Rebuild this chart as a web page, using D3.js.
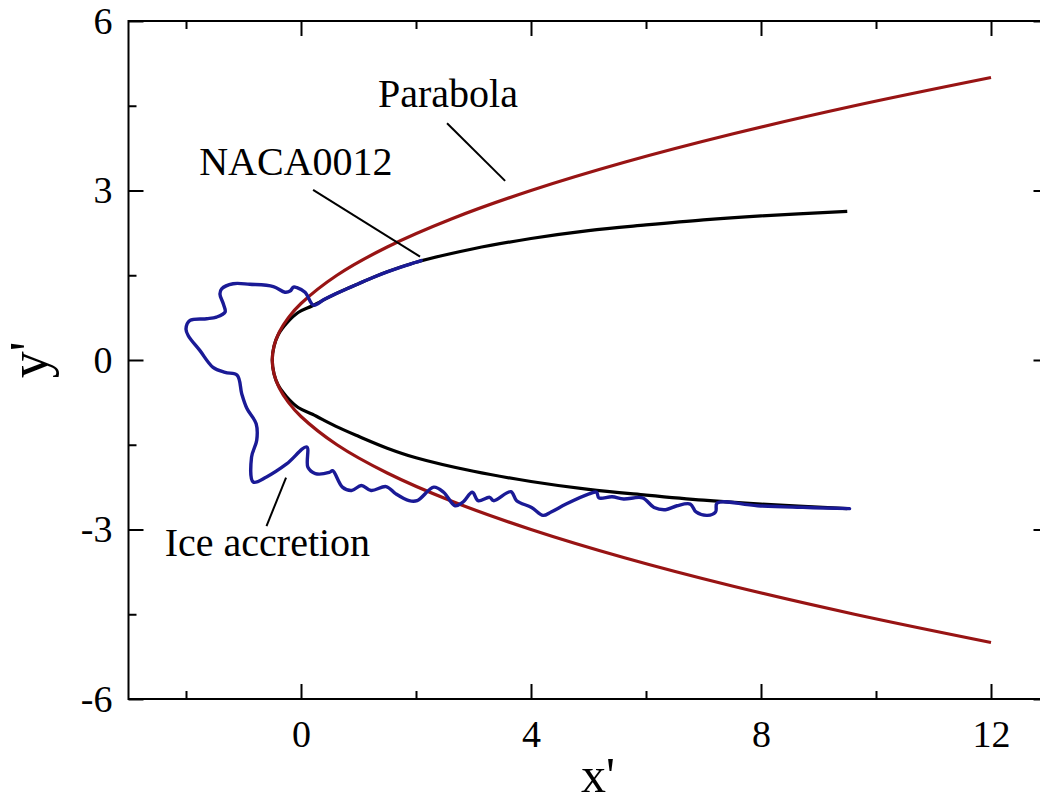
<!DOCTYPE html>
<html>
<head>
<meta charset="utf-8">
<script src="https://cdn.jsdelivr.net/npm/d3@7/dist/d3.min.js"></script>
<style>
  html, body { margin: 0; padding: 0; background: #fff; }
  svg { display: block; }
  text { font-family: "Liberation Serif", "Times New Roman", serif; fill: #000; }
</style>
</head>
<body>
<svg id="chart" width="1040" height="803"></svg>
<script>
// Axis ticks
const xMajorTicks = [0, 4, 8, 12];
const xMinorTicks = [-2, 2, 6, 10];
const yMajorTicks = [-6, -3, 0, 3, 6];
const yMinorTicks = [-4.5, -1.5, 1.5, 4.5];

// Parabola reference curve (upper branch to lower branch)
const parabolaX = [12, 9.625, 7.5, 5.625, 4, 2.625, 1.5, 0.625, 0, -0.219, -0.375, -0.469, -0.5,
                   -0.469, -0.375, -0.219, 0, 0.625, 1.5, 2.625, 4, 5.625, 7.5, 9.625, 12];
const parabolaY = [5, 4.5, 4, 3.5, 3, 2.5, 2, 1.5, 1, 0.75, 0.5, 0.25, 0,
                   -0.25, -0.5, -0.75, -1, -1.5, -2, -2.5, -3, -3.5, -4, -4.5, -5];

// NACA0012 leading-edge contour (upper surface, nose, lower surface)
const nacaX = [9.5, 8.0, 7.0, 6.0, 5.0, 4.0, 3.0, 2.0, 1.5, 1.0, 0.6, 0.2, -0.05, -0.25, -0.4, -0.47, -0.5,
               -0.47, -0.4, -0.25, -0.05, 0.2, 0.6, 1.0, 1.5, 2.0, 3.0, 4.0, 5.0, 6.0, 7.0, 8.0, 9.5];
const nacaY = [2.63, 2.55, 2.48, 2.39, 2.29, 2.15, 1.97, 1.73, 1.56, 1.35, 1.17, 0.96, 0.84, 0.65, 0.44, 0.24, 0,
               -0.24, -0.44, -0.65, -0.84, -0.96, -1.17, -1.35, -1.56, -1.73, -1.97, -2.15, -2.29, -2.39, -2.48, -2.55, -2.63];

// Ice accretion contour
const iceX = [2.09, 2.0, 1.75, 1.5, 1.25, 1.0, 0.8, 0.6, 0.4, 0.22, 0.07, -0.07, -0.13, -0.19, -0.28, -0.48, -0.89, -1.18, -1.38, -1.41,
              -1.35, -1.32, -1.47, -1.64, -1.93, -2.00, -1.96, -1.76, -1.53, -1.32, -1.11, -1.03, -0.94, -0.78,
              -0.77, -0.86, -0.83, -0.60, -0.25, 0.10, 0.12, 0.25, 0.49, 0.55, 0.72, 0.88, 1.05, 1.22, 1.48,
              1.65, 1.88, 2.02, 2.31, 2.48, 2.68, 2.81, 2.98, 3.08, 3.28, 3.35, 3.65, 3.75, 4.01, 4.21, 4.35,
              4.61, 5.01, 5.14, 5.18, 5.41, 5.61, 5.94, 6.14, 6.34, 6.54, 6.77, 6.87, 7.07, 7.21, 7.24, 7.94, 9.54];
const iceY = [1.76, 1.73, 1.65, 1.56, 1.46, 1.35, 1.26, 1.17, 1.07, 0.97, 1.20, 1.28, 1.29, 1.22, 1.20, 1.30, 1.34, 1.35, 1.26, 1.17,
              0.99, 0.85, 0.76, 0.73, 0.70, 0.55, 0.43, 0.17, -0.13, -0.22, -0.27, -0.60, -0.86, -1.13,
              -1.42, -1.72, -2.16, -2.07, -1.84, -1.54, -1.90, -2.01, -1.99, -1.96, -2.25, -2.31, -2.22, -2.31, -2.24,
              -2.37, -2.49, -2.49, -2.25, -2.34, -2.58, -2.52, -2.34, -2.49, -2.43, -2.49, -2.33, -2.49, -2.61, -2.75, -2.69,
              -2.55, -2.37, -2.34, -2.44, -2.42, -2.46, -2.44, -2.61, -2.65, -2.58, -2.55, -2.69, -2.75, -2.69, -2.53, -2.58, -2.63];

// Annotations: label text, label anchor, leader line from -> to (data units)
const labelNames = ["Parabola", "NACA0012", "Ice accretion"];
const labelX = [1.34, -1.77, -2.37];
const labelY = [4.48, 3.27, -3.47];
const leaderX1 = [2.54, 0.21, -0.26];
const leaderY1 = [4.19, 3.01, -2.08];
const leaderX2 = [3.55, 2.07, -0.60];
const leaderY2 = [3.17, 1.83, -2.94];

const svg = d3.select("#chart");

const x = d3.scaleLinear().domain([-3, 13]).range([128.5, 1048.5]);
const y = d3.scaleLinear().domain([-6, 6]).range([699, 21]);

const toPoints = (xs, ys) => xs.map((v, i) => [v, ys[i]]);
const smooth = d3.line().x(d => x(d[0])).y(d => y(d[1])).curve(d3.curveCatmullRom.alpha(0.5));
const ragged = d3.line().x(d => x(d[0])).y(d => y(d[1])).curve(d3.curveCatmullRom.alpha(0.5));

// Curves
svg.append("path")
  .attr("d", smooth(toPoints(nacaX, nacaY)))
  .attr("fill", "none").attr("stroke", "#000").attr("stroke-width", 3.2)
  .attr("stroke-linejoin", "round");

svg.append("path")
  .attr("d", smooth(toPoints(parabolaX, parabolaY)))
  .attr("fill", "none").attr("stroke", "#981414").attr("stroke-width", 3.2)
  .attr("stroke-linejoin", "round");

svg.append("path")
  .attr("d", ragged(toPoints(iceX, iceY)))
  .attr("fill", "none").attr("stroke", "#1a1a96").attr("stroke-width", 3.4)
  .attr("stroke-linejoin", "round").attr("stroke-linecap", "round");

// Frame
svg.append("rect")
  .attr("x", x(-3)).attr("y", y(6))
  .attr("width", x(13) - x(-3)).attr("height", y(-6) - y(6))
  .attr("fill", "none").attr("stroke", "#000").attr("stroke-width", 2);

function styleAxis(g) {
  g.select(".domain").remove();
  g.selectAll(".tick line").attr("stroke", "#000").attr("stroke-width", 2);
  g.selectAll(".tick text").style("font-size", "38px").attr("fill", "#000");
}
const plain = d => String(d);

// Bottom axis with labels
svg.append("g")
  .attr("transform", `translate(0,${y(-6)})`)
  .call(d3.axisBottom(x).tickValues(xMajorTicks).tickSize(-15).tickPadding(21).tickFormat(plain))
  .call(styleAxis);
svg.append("g")
  .attr("transform", `translate(0,${y(-6)})`)
  .call(d3.axisBottom(x).tickValues(xMinorTicks).tickSize(-8).tickFormat(""))
  .call(styleAxis);

// Top axis (ticks only)
svg.append("g")
  .attr("transform", `translate(0,${y(6)})`)
  .call(d3.axisTop(x).tickValues(xMajorTicks).tickSize(-15).tickFormat(""))
  .call(styleAxis);
svg.append("g")
  .attr("transform", `translate(0,${y(6)})`)
  .call(d3.axisTop(x).tickValues(xMinorTicks).tickSize(-8).tickFormat(""))
  .call(styleAxis);

// Left axis with labels
svg.append("g")
  .attr("transform", `translate(${x(-3)},0)`)
  .call(d3.axisLeft(y).tickValues(yMajorTicks).tickSize(-15).tickPadding(16).tickFormat(plain))
  .call(styleAxis);
svg.append("g")
  .attr("transform", `translate(${x(-3)},0)`)
  .call(d3.axisLeft(y).tickValues(yMinorTicks).tickSize(-8).tickFormat(""))
  .call(styleAxis);

// Right axis (ticks only)
svg.append("g")
  .attr("transform", `translate(${x(13)},0)`)
  .call(d3.axisRight(y).tickValues(yMajorTicks).tickSize(-15).tickFormat(""))
  .call(styleAxis);
svg.append("g")
  .attr("transform", `translate(${x(13)},0)`)
  .call(d3.axisRight(y).tickValues(yMinorTicks).tickSize(-8).tickFormat(""))
  .call(styleAxis);

// Axis titles
svg.append("text")
  .attr("x", 598).attr("y", 792)
  .attr("text-anchor", "middle")
  .style("font-size", "50px")
  .text("x'");

svg.append("text")
  .attr("transform", `translate(47,${y(0)}) rotate(-90)`)
  .attr("text-anchor", "middle")
  .style("font-size", "54px")
  .text("y'");

// Annotations
const notes = svg.append("g");
labelNames.forEach((name, i) => {
  notes.append("line")
    .attr("x1", x(leaderX1[i])).attr("y1", y(leaderY1[i]))
    .attr("x2", x(leaderX2[i])).attr("y2", y(leaderY2[i]))
    .attr("stroke", "#000").attr("stroke-width", 2);
  notes.append("text")
    .attr("x", x(labelX[i])).attr("y", y(labelY[i]))
    .style("font-size", "40px")
    .text(name);
});
</script>
</body>
</html>
